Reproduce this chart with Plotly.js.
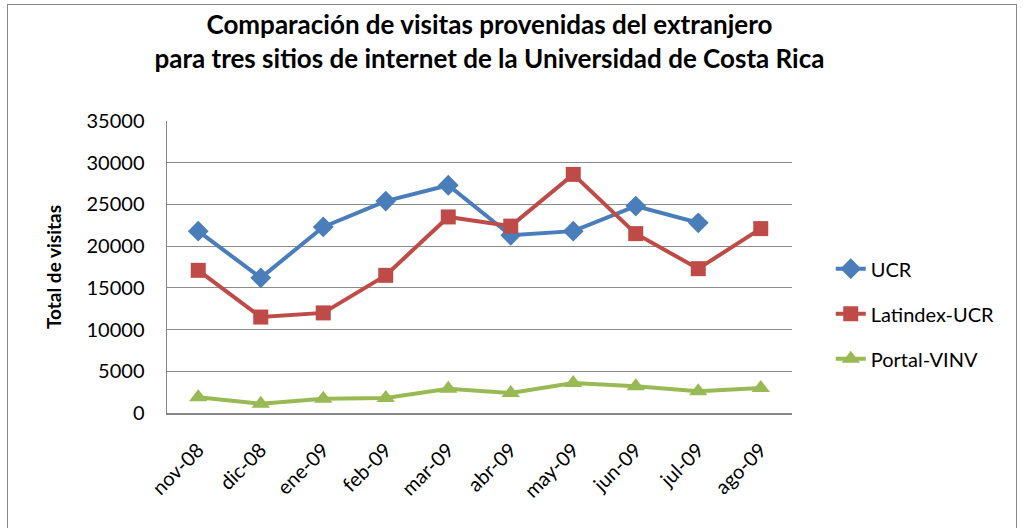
<!DOCTYPE html>
<html><head><meta charset="utf-8">
<script src="https://cdn.plot.ly/plotly-3.0.1.min.js"></script>
<style>
html,body{margin:0;padding:0;background:#fff;}
#frame{position:absolute;left:7px;top:4px;width:1010px;height:530px;border:1.5px solid #868686;box-sizing:border-box;}
#chart{position:absolute;left:0;top:0;width:1024px;height:528px;}
</style>
</head><body>
<div id="frame"></div>
<div id="chart"></div>
<script>
const months = ["nov-08","dic-08","ene-09","feb-09","mar-09","abr-09","may-09","jun-09","jul-09","ago-09"];
const ucr = [21800,16200,22300,25400,27300,21300,21800,24800,22800,null];
const latindex = [17100,11500,12000,16500,23500,22400,28600,21500,17300,22100];
const portal = [1900,1100,1700,1800,2900,2400,3600,3200,2600,3000];
const yTicks = [0,5000,10000,15000,20000,25000,30000,35000];

const font = "Lato, 'Open Sans', sans-serif";
const traces = [
  {x: months, y: ucr, name: "UCR", legendgroup: "a", type: "scatter", mode: "lines+markers",
   line: {color: "#4A7EBB", width: 4}, marker: {symbol: "diamond", size: 16, color: "#4A7EBB"}},
  {x: months, y: latindex, name: "Latindex-UCR", legendgroup: "b", type: "scatter", mode: "lines+markers",
   line: {color: "#BE4B48", width: 4}, marker: {symbol: "square", size: 15, color: "#BE4B48"}},
  {x: months, y: portal, name: "Portal-VINV", legendgroup: "c", type: "scatter", mode: "lines+markers",
   line: {color: "#98B954", width: 4}, marker: {symbol: "triangle-up", size: 16, color: "#98B954"}}
];
const layout = {
  width: 1024, height: 528,
  paper_bgcolor: "rgba(0,0,0,0)", plot_bgcolor: "#fff",
  margin: {l: 167, r: 232, t: 121, b: 115},
  font: {family: font, size: 20, color: "#000"},
  title: {text: "<b>Comparación de visitas provenidas del extranjero<br>para tres sitios de internet de la Universidad de Costa Rica</b>",
          x: 0.478, xanchor: "center", y: 0.935, yanchor: "top", font: {size: 26, family: font}},
  xaxis: {type: "category", tickangle: -45, showgrid: false, showline: true, linecolor: "#868686", linewidth: 1.5,
          ticks: "", tickfont: {size: 20}, range: [-0.5, 9.5], ticklabelstandoff: 16},
  yaxis: {range: [0, 35000], tickvals: yTicks, ticktext: yTicks.map(String), showgrid: true,
          gridcolor: "#8c8c8c", gridwidth: 1.2, showline: true, linecolor: "#868686", linewidth: 1.5,
          ticks: "", zeroline: false, ticklabelstandoff: 17, tickfont: {size: 20},
          title: {text: "<b>Total de visitas</b>", font: {size: 19}, standoff: 20}},
  legend: {x: 1.062, xanchor: "left", y: 0.34, yanchor: "middle", font: {size: 20},
           tracegroupgap: 16, bgcolor: "rgba(0,0,0,0)"},
  showlegend: true
};
Plotly.newPlot("chart", traces, layout, {staticPlot: true});
</script>
</body></html>
